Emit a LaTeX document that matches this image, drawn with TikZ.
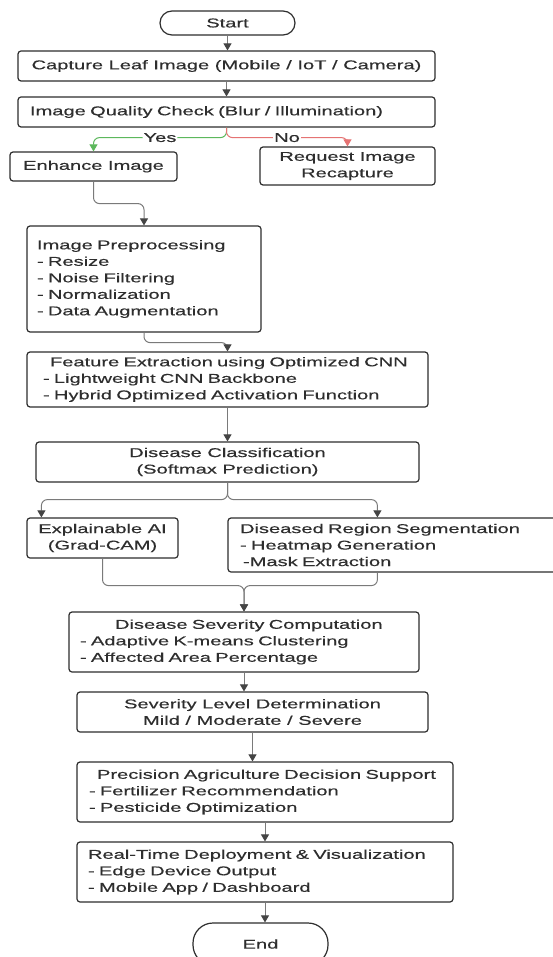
\documentclass[tikz,border=0pt]{standalone}
\usepackage{fontspec}
\setmainfont{Liberation Sans}[FakeStretch=1.57,FakeBold=0.35]
\usetikzlibrary{arrows.meta}

\definecolor{ink}{HTML}{2E2E2E}
\definecolor{wire}{HTML}{7A7A7A}
\definecolor{tipc}{HTML}{444444}
\definecolor{yesgreen}{HTML}{5CB85C}
\definecolor{nored}{HTML}{E57373}

\begin{document}
\begin{tikzpicture}[x=1pt,y=-1pt]
\tikzstyle{every node}+=[inner sep=0pt, font=\fontsize{12.8}{16.5}\selectfont, text=ink]
\tikzstyle{box}=[draw=ink, line width=1.2pt, rounded corners=3pt]
\tikzstyle{term}=[box, rounded corners=12pt, minimum width=135pt, minimum height=24pt]
\tikzstyle{flow}=[draw=wire, line width=1pt, rounded corners=6pt, -{Triangle[length=7pt,width=8pt,color=tipc]}]
\tikzstyle{yesflow}=[flow, draw=yesgreen, -{Triangle[length=7pt,width=8pt,color=yesgreen]}]
\tikzstyle{noflow}=[flow, draw=nored, -{Triangle[length=7pt,width=8pt,color=nored]}]
\tikzstyle{lbl}=[fill=white, inner xsep=1pt]
\fill [white] (0,0) rectangle (553,957);
\useasboundingbox (0,0) rectangle (553,957);
\node [term] (start) at (227.5,23) {Start};
\node [box, minimum width=417pt, minimum height=30pt] (capture) at (226.5,66) {Capture Leaf Image (Mobile / IoT / Camera)};
\node [box, minimum width=417pt, minimum height=30pt, text width=393pt, align=left] (quality) at (226.5,112) {Image Quality Check (Blur / Illumination)};
\node [box, minimum width=167pt, minimum height=29pt] (enhance) at (93.5,166.5) {Enhance Image};
\node [box, minimum width=175pt, minimum height=38pt, align=center] (recapture) at (347.5,166) {Request Image\\Recapture};
\node [box, minimum width=234pt, minimum height=106pt, text width=214pt, align=left] (preproc) at (144,279) {Image Preprocessing\\- Resize\\- Noise Filtering\\- Normalization\\- Data Augmentation};
\node [box, minimum width=401pt, minimum height=55pt, text width=369pt, align=left] (features) at (227.5,379.5) {\hspace*{7pt}Feature Extraction using Optimized CNN\\- Lightweight CNN Backbone\\- Hybrid Optimized Activation Function};
\node [box, minimum width=383pt, minimum height=40pt, align=center] (classify) at (227.5,462) {Disease Classification\\(Softmax Prediction)};
\node [box, minimum width=151pt, minimum height=40pt, align=center] (xai) at (102.5,538) {Explainable AI\\(Grad-CAM)};
\node [box, minimum width=352pt, minimum height=54pt, text width=328pt, align=left] (segment) at (404,545) {Diseased Region Segmentation\\- Heatmap Generation\\\hspace*{3pt}-Mask Extraction};
\node [box, minimum width=350pt, minimum height=60pt, text width=328pt, align=left] (severity) at (244,642) {\hspace*{35pt}Disease Severity Computation\\- Adaptive K-means Clustering\\- Affected Area Percentage};
\node [box, minimum width=351pt, minimum height=40pt, align=center] (level) at (252.5,712) {Severity Level Determination\\Mild / Moderate / Severe};
\node [box, minimum width=376pt, minimum height=60pt, text width=352pt, align=left] (decision) at (265,792) {\hspace*{8pt}Precision Agriculture Decision Support\\- Fertilizer Recommendation\\- Pesticide Optimization};
\node [box, minimum width=376pt, minimum height=60pt, text width=354pt, align=left] (deploy) at (265,872) {Real-Time Deployment \& Visualization\\- Edge Device Output\\- Mobile App / Dashboard};
\node [term, rounded corners=20pt, minimum height=42pt] (end) at (260.5,944) {End};
\draw [flow] (start.south) -- (start.south |- capture.north);
\draw [flow] (capture.south) -- (capture.south |- quality.north);
\draw [yesflow] (quality.south) -- ++(0,10) -| node [pos=0.25, lbl] {Yes} (enhance.north);
\draw [noflow] (quality.south) -- ++(0,10) -| node [pos=0.25, lbl] {No} (recapture.north);
\draw [flow] (enhance.south) -- ++(0,22) -| (preproc.north);
\draw [flow] (preproc.south) -- ++(0,10) -| (features.north);
\draw [flow] (features.south) -- (features.south |- classify.north);
\draw [flow] (classify.south) -- ++(0,17) -| ([xshift=15pt]xai.north west);
\draw [flow] (classify.south) -- ++(0,17) -| ([xshift=150pt]segment.north west);
\draw [flow] (xai.south) -- ++(0,27) -| (severity.north);
\draw [flow] ([xshift=150pt]segment.south west) -- ++(0,13) -| (severity.north);
\draw [flow] (severity.south) -- (severity.south |- level.north);
\draw [flow] (level.south) -- (level.south |- decision.north);
\draw [flow] (decision.south) -- (decision.south |- deploy.north);
\draw [flow] (deploy.south) -- (deploy.south |- end.north);
\end{tikzpicture}
\end{document}
